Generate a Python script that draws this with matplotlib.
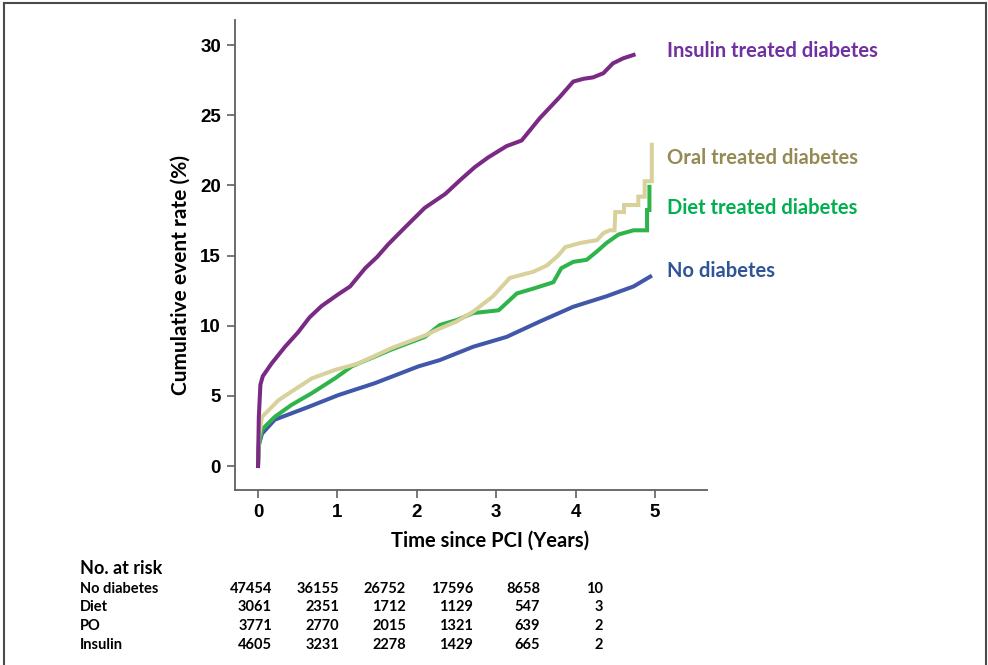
import matplotlib
matplotlib.use("Agg")
import matplotlib.pyplot as plt
from matplotlib.lines import Line2D

# cumulative event rate (%) by years since PCI, one series per group
insulin_t = [0, 0.01, 0.03, 0.06, 0.17, 0.34, 0.5, 0.65, 0.8, 1.0, 1.16, 1.35, 1.5, 1.64, 1.85,
             2.1, 2.36, 2.55, 2.73, 2.9, 3.13, 3.32, 3.55, 3.8, 3.97, 4.1, 4.22, 4.35, 4.47, 4.6, 4.73]
insulin_v = [0, 3.5, 5.8, 6.4, 7.3, 8.5, 9.5, 10.6, 11.4, 12.2, 12.8, 14.1, 14.9, 15.8, 17.0,
             18.4, 19.4, 20.4, 21.3, 22.0, 22.8, 23.2, 24.8, 26.3, 27.4, 27.6, 27.7, 28.0, 28.7, 29.06, 29.3]

oral_t = [0, 0.01, 0.05, 0.26, 0.42, 0.68, 0.97, 1.26, 1.68, 2.1, 2.29, 2.5, 2.71, 2.96, 3.09, 3.17,
          3.3, 3.47, 3.64, 3.78, 3.87, 4.06, 4.27, 4.35, 4.43, 4.49, 4.5, 4.61, 4.61, 4.79, 4.79,
          4.87, 4.87, 4.96, 4.96]
oral_v = [0, 2.0, 3.5, 4.7, 5.3, 6.25, 6.85, 7.3, 8.4, 9.3, 9.8, 10.3, 11.0, 12.1, 12.9, 13.4,
          13.6, 13.85, 14.3, 15.0, 15.6, 15.9, 16.1, 16.6, 16.8, 16.8, 18.1, 18.1, 18.6, 18.6, 19.2,
          19.2, 20.3, 20.3, 22.9]

diet_t = [0, 0.01, 0.05, 0.21, 0.42, 0.68, 0.97, 1.18, 1.68, 2.1, 2.29, 2.5, 2.71, 3.03, 3.05,
          3.26, 3.47, 3.72, 3.82, 3.97, 4.14, 4.27, 4.39, 4.54, 4.73, 4.9, 4.9, 4.93, 4.93]
diet_v = [0, 1.5, 2.6, 3.5, 4.35, 5.2, 6.25, 7.1, 8.3, 9.2, 10.05, 10.4, 10.9, 11.1, 11.2,
          12.3, 12.65, 13.1, 14.1, 14.55, 14.7, 15.3, 15.9, 16.5, 16.8, 16.8, 18.25, 18.25, 19.9]

nodiab_t = [0, 0.01, 0.05, 0.21, 0.63, 1.01, 1.47, 2.02, 2.29, 2.71, 3.13, 3.55, 3.97, 4.39, 4.73, 4.94]
nodiab_v = [0, 1.5, 2.3, 3.3, 4.2, 5.05, 5.9, 7.1, 7.55, 8.5, 9.2, 10.3, 11.35, 12.1, 12.8, 13.5]

# number at risk table
risk_groups = ["No diabetes", "Diet", "PO", "Insulin"]
risk_counts = [
    [47454, 36155, 26752, 17596, 8658, 10],
    [3061, 2351, 1712, 1129, 547, 3],
    [3771, 2770, 2015, 1321, 639, 2],
    [4605, 3231, 2278, 1429, 665, 2],
]

series = [
    (insulin_t, insulin_v, "#7a2a84", "Insulin treated diabetes", "#7030a0"),
    (oral_t, oral_v, "#d8d19c", "Oral treated diabetes", "#948a54"),
    (diet_t, diet_v, "#2fb44b", "Diet treated diabetes", "#00b050"),
    (nodiab_t, nodiab_v, "#4157aa", "No diabetes", "#2f5597"),
]
label_y = [51, 158, 208, 271]

W, H = 988, 665
fig = plt.figure(figsize=(W / 100, H / 100), dpi=100)
ax = fig.add_axes([235 / W, 175 / H, 472 / W, 470 / H])

for t, v, c, _, _ in series[::-1]:
    ax.plot(t, v, color=c, lw=2.9, solid_joinstyle="miter")

ax.set_xlim(-0.29, 5.655)
ax.set_ylim(-1.71, 31.79)
ax.set_xticks(range(0, 6))
ax.set_yticks(range(0, 31, 5))
for s in ["top", "right"]:
    ax.spines[s].set_visible(False)
for s in ["left", "bottom"]:
    ax.spines[s].set_color("#606060")
    ax.spines[s].set_linewidth(1.3)
ax.tick_params(direction="out", length=6, width=1.2, color="#606060", labelsize=13.5, pad=4)
for lab in ax.get_xticklabels() + ax.get_yticklabels():
    lab.set_fontfamily("Liberation Sans")
    lab.set_fontweight("bold")

calib = "Lato"
fig.text(181 / W, 1 - 275 / H, "Cumulative event rate (%)", rotation=90, ha="center", va="center",
         fontsize=15, fontweight="bold", family=calib)
fig.text(490 / W, 1 - 541 / H, "Time since PCI (Years)", ha="center", va="center",
         fontsize=14.5, fontweight="bold", family=calib)

for (_, _, _, name, tc), y in zip(series, label_y):
    fig.text(667 / W, 1 - y / H, name, ha="left", va="center", color=tc,
             fontsize=14.5, fontweight="bold", family=calib)

# at-risk table below the plot
fig.text(80 / W, 1 - 568 / H, "No. at risk", ha="left", va="center",
         fontsize=13, fontweight="bold", family=calib)
row_y = [589, 607, 626, 645]
col_x = [272, 339, 406, 473, 540, 603]
for name, counts, y in zip(risk_groups, risk_counts, row_y):
    fig.text(80 / W, 1 - y / H, name, ha="left", va="center",
             fontsize=10.5, fontweight="bold", family=calib)
    for n, x in zip(counts, col_x):
        fig.text(x / W, 1 - y / H, str(n), ha="right", va="center",
                 fontsize=10.5, fontweight="bold", family=calib)

# outer frame (left, top, right)
fc = "#4a4a4a"
fig.add_artist(Line2D([3.5 / W, 3.5 / W], [0, 1 - 2.5 / H], color=fc, lw=1.5))
fig.add_artist(Line2D([3.5 / W, 985.5 / W], [1 - 2.5 / H, 1 - 2.5 / H], color=fc, lw=1.5))
fig.add_artist(Line2D([985.5 / W, 985.5 / W], [0, 1 - 2.5 / H], color=fc, lw=1.5))

fig.savefig("out.png", dpi=100)
